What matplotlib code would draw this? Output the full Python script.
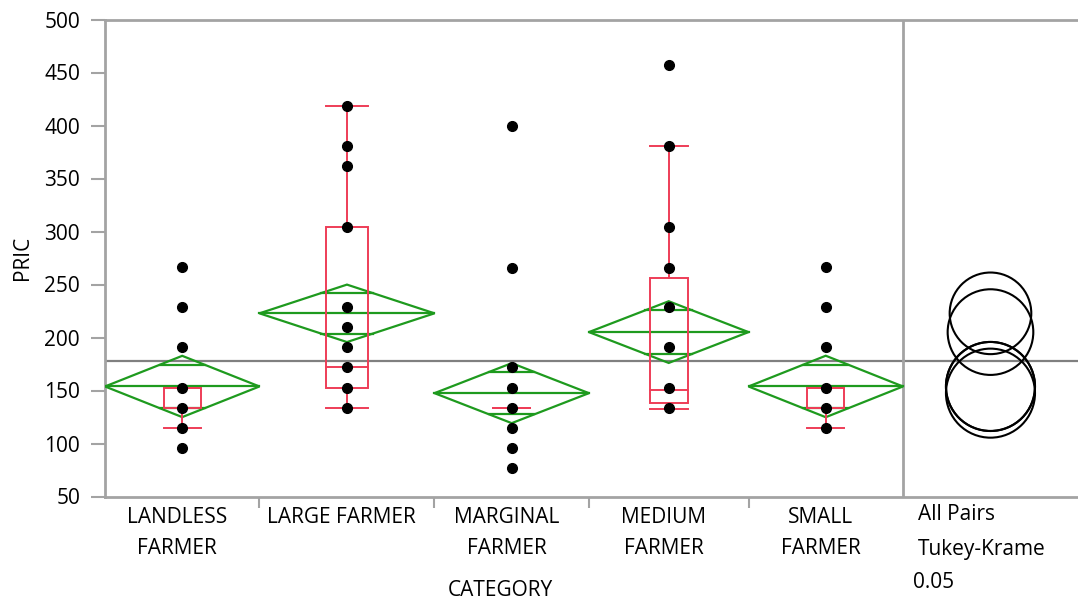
import numpy as np
import matplotlib
matplotlib.use('Agg')
import matplotlib.pyplot as plt
from matplotlib.patches import Polygon, Rectangle, Ellipse

plt.rcParams['font.family'] = ['Open Sans', 'DejaVu Sans']

# group names and sizes (sizes set the width of each group on the x axis)
categories = ['LANDLESS\nFARMER', 'LARGE FARMER', 'MARGINAL\nFARMER', 'MEDIUM\nFARMER', 'SMALL\nFARMER']
group_n = [30, 34, 30, 31, 30]

pts_landless = [266.5, 228.7, 190.9, 152.2, 133.3, 114.4, 95.5]
pts_large = [418.4, 380.7, 361.5, 304.2, 228.7, 209.8, 190.9, 172.0, 152.2, 133.3]
pts_marginal = [399.3, 265.9, 172.0, 152.2, 133.3, 114.4, 95.5, 76.6]
pts_medium = [457.5, 380.7, 304.2, 265.9, 228.7, 190.9, 152.2, 133.3]
pts_small = [266.5, 228.7, 190.9, 152.2, 133.3, 114.4]
points = [pts_landless, pts_large, pts_marginal, pts_medium, pts_small]

# means diamonds: group mean and 95% CI half-width
means = [153.8, 222.8, 147.5, 205.1, 153.8]
ci_half = [28.9, 27.1, 28.3, 29.1, 29.0]
grand_mean = 178.0

# box plots: q1, median, q3, lower whisker, upper whisker
q1 = [133.3, 152.2, 133.3, 138.1, 133.3]
median = [152.2, 172.0, 133.3, 150.7, 133.3]
q3 = [152.2, 304.2, 133.3, 255.8, 152.2]
whisk_lo = [114.4, 133.3, 133.3, 132.8, 114.4]
whisk_hi = [152.2, 418.4, 133.3, 380.7, 152.2]

# Tukey-Kramer comparison circles (radius in PRIC units)
circle_r = [42.0, 38.5, 42.0, 40.4, 42.0]

green = '#1e9a1e'
red = '#ee3d57'
gray = '#a3a3a3'
fs = 15

W, H = 1078, 601
fig = plt.figure(figsize=(W / 100, H / 100), dpi=100)
ax = fig.add_axes([105 / W, (H - 496.5) / H, (W - 105) / W, 477 / H])

edges = np.concatenate([[0], np.cumsum(group_n)])
total = edges[-1]
panel_w = 34
ax.set_xlim(0, total + panel_w)
ax.set_ylim(50, 500)

# grand mean line
ax.axhline(grand_mean, color='#808080', lw=1.6, zorder=1)

for i in range(len(categories)):
    left, right = edges[i], edges[i + 1]
    c = (left + right) / 2
    m, h = means[i], ci_half[i]
    # means diamond
    ax.add_patch(Polygon([(left, m), (c, m + h), (right, m), (c, m - h)],
                         closed=True, fill=False, edgecolor=green, lw=1.6, zorder=3))
    ax.plot([left, right], [m, m], color=green, lw=1.6, zorder=3)
    # overlap marks
    hw = (right - left) / 2 * (1 - 1 / np.sqrt(2))
    for s in (1, -1):
        ax.plot([c - hw, c + hw], [m + s * h / np.sqrt(2)] * 2, color=green, lw=1.6, zorder=3)

    # box plot
    bw = (right - left) * 0.24
    ax.add_patch(Rectangle((c - bw / 2, q1[i]), bw, q3[i] - q1[i], fill=False,
                           edgecolor=red, lw=1.4, zorder=4))
    ax.plot([c - bw / 2, c + bw / 2], [median[i]] * 2, color=red, lw=1.4, zorder=4)
    ax.plot([c, c], [q3[i], whisk_hi[i]], color=red, lw=1.4, zorder=4)
    ax.plot([c, c], [q1[i], whisk_lo[i]], color=red, lw=1.4, zorder=4)
    ax.plot([c - bw / 2, c + bw / 2], [whisk_hi[i]] * 2, color=red, lw=1.4, zorder=4)
    ax.plot([c - bw / 2, c + bw / 2], [whisk_lo[i]] * 2, color=red, lw=1.4, zorder=4)

    # points
    ax.plot([c] * len(points[i]), points[i], 'o', color='black', ms=7, zorder=5)

    # category label
    ax.text(c - 1, -0.022, categories[i], transform=ax.get_xaxis_transform(),
            ha='center', va='top', fontsize=fs, linespacing=1.6)

# panel divider
ax.axvline(total, color=gray, lw=2, zorder=2)

# comparison circles, drawn round in screen space
cx = total + panel_w / 2
fig.canvas.draw()
p0 = ax.transData.transform((0, 0))
p1 = ax.transData.transform((1, 1))
ratio = (p1[1] - p0[1]) / (p1[0] - p0[0])
for m, r in zip(means, circle_r):
    ax.add_patch(Ellipse((cx, m), 2 * r * ratio, 2 * r, fill=False,
                         edgecolor='black', lw=1.5, zorder=5))

# axes styling
for side in ('left', 'bottom', 'top'):
    ax.spines[side].set_color(gray)
    ax.spines[side].set_linewidth(2)
ax.spines['right'].set_visible(False)
ax.set_yticks(np.arange(50, 501, 50))
ax.tick_params(axis='y', colors=gray, length=10, width=1.5, pad=8, labelsize=fs,
               labelcolor='black')
ax.set_xticks(edges[1:-1])
ax.set_xticklabels([])
ax.tick_params(axis='x', colors=gray, length=8, width=1.5)

ax.set_ylabel('PRIC', fontsize=fs, labelpad=8)
fig.text(500 / W, 1 - 590 / H, 'CATEGORY', ha='center', va='center', fontsize=fs)
fig.text(918 / W, 1 - 515 / H, 'All Pairs', ha='left', va='center', fontsize=fs)
fig.text(918 / W, 1 - 549 / H, 'Tukey-Krame', ha='left', va='center', fontsize=fs)
fig.text(913 / W, 1 - 582 / H, '0.05', ha='left', va='center', fontsize=fs)

fig.savefig('out.png', dpi=100)
